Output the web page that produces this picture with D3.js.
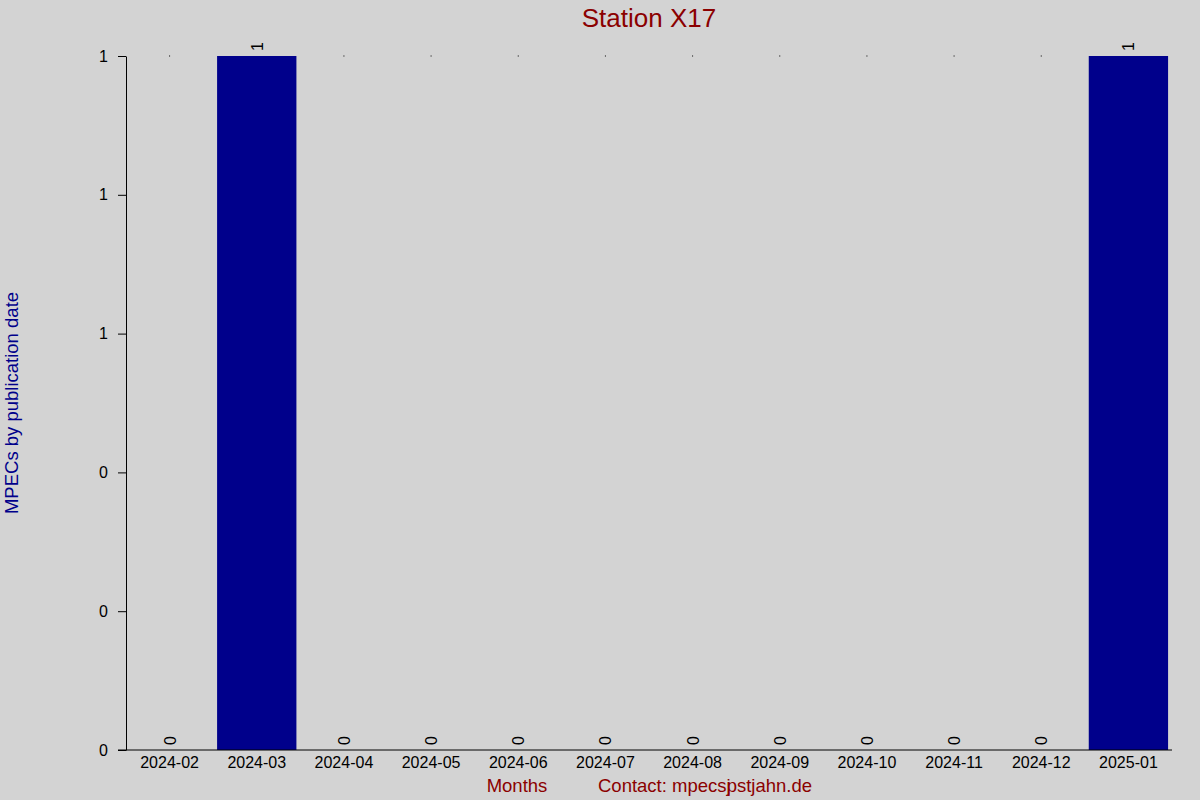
<!DOCTYPE html>
<html>
<head>
<meta charset="utf-8">
<script src="https://cdn.jsdelivr.net/npm/d3@7"></script>
<style>
  body { margin: 0; background: #d3d3d3; }
  svg { display: block; font-family: "Liberation Sans", Arial, sans-serif; }
</style>
</head>
<body>
<svg id="chart" width="1200" height="800"></svg>
<script>
const months = ["2024-02","2024-03","2024-04","2024-05","2024-06","2024-07",
                "2024-08","2024-09","2024-10","2024-11","2024-12","2025-01"];
const counts = [0, 1, 0, 0, 0, 0, 0, 0, 0, 0, 0, 1];
const yTickValues = [0, 0.2, 0.4, 0.6, 0.8, 1];

let svg = d3.select("#chart"),
    width = +svg.attr("width"),
    height = +svg.attr("height"),
    margin = {top: 56, right: 28, bottom: 50, left: 126};

svg.append("rect").attr("width", width).attr("height", height).attr("fill", "#d3d3d3");

let x = d3.scaleBand()
          .domain(months)
          .range([margin.left, width - margin.right])
          .paddingInner(0.09)
          .paddingOuter(0.045);

let y = d3.scaleLinear()
          .domain([0, d3.max(counts)])
          .range([height - margin.bottom, margin.top]);

let data = months.map((m, i) => ({month: m, count: counts[i]}));

// bars
svg.selectAll(".bar")
   .data(data)
   .enter().append("rect")
   .attr("class", "bar")
   .attr("x", d => x(d.month))
   .attr("y", d => y(d.count))
   .attr("width", x.bandwidth())
   .attr("height", d => y(0) - y(d.count))
   .attr("fill", "#00008b");

// little dots at the top for empty months
svg.selectAll(".dot")
   .data(data.filter(d => d.count == 0))
   .enter().append("rect")
   .attr("x", d => x(d.month) + x.bandwidth() / 2 - 0.5)
   .attr("y", y(d3.max(counts)) - 0.5)
   .attr("width", 1).attr("height", 1)
   .attr("fill", "#000");

// value labels, rotated
svg.selectAll(".val")
   .data(data)
   .enter().append("text")
   .attr("transform", d => `translate(${x(d.month) + x.bandwidth() / 2 + 6},${y(d.count) - 5}) rotate(-90)`)
   .attr("text-anchor", "start")
   .style("font-size", "16px")
   .attr("fill", "#000")
   .text(d => d.count);

// axes
let xAxis = svg.append("g")
   .attr("transform", `translate(0,${height - margin.bottom})`)
   .call(d3.axisBottom(x).tickSize(0).tickPadding(7));
xAxis.select(".domain").remove();
xAxis.selectAll("text").style("font-size", "16px").attr("fill", "#000");
xAxis.append("line")
     .attr("x1", margin.left - 8).attr("x2", width - margin.right)
     .attr("stroke", "#000");

let yAxis = svg.append("g")
   .attr("transform", `translate(${margin.left},0)`)
   .call(d3.axisLeft(y).tickValues(yTickValues).tickFormat(d3.format(".0f")).tickSizeOuter(0).tickSizeInner(8).tickPadding(10));
yAxis.selectAll("text").style("font-size", "16px").attr("fill", "#000");
yAxis.selectAll("line, path").attr("stroke", "#000");

// title and labels
svg.append("text")
   .attr("x", 649).attr("y", 27)
   .attr("text-anchor", "middle")
   .style("font-size", "26px")
   .attr("fill", "#8b0000")
   .text("Station X17");

svg.append("text")
   .attr("transform", `translate(18,403) rotate(-90)`)
   .attr("text-anchor", "middle")
   .style("font-size", "18.5px")
   .attr("fill", "#00008b")
   .text("MPECs by publication date");

svg.append("text")
   .attr("x", 517).attr("y", 792)
   .attr("text-anchor", "middle")
   .style("font-size", "18.5px")
   .attr("fill", "#8b0000")
   .text("Months");

let contact = svg.append("text")
   .attr("x", 598).attr("y", 792)
   .style("font-size", "18.5px")
   .attr("fill", "#8b0000");
contact.append("tspan").text("Contact: mpecsj");
contact.append("tspan").attr("dx", -4).text("pstjahn.de");
</script>
</body>
</html>
